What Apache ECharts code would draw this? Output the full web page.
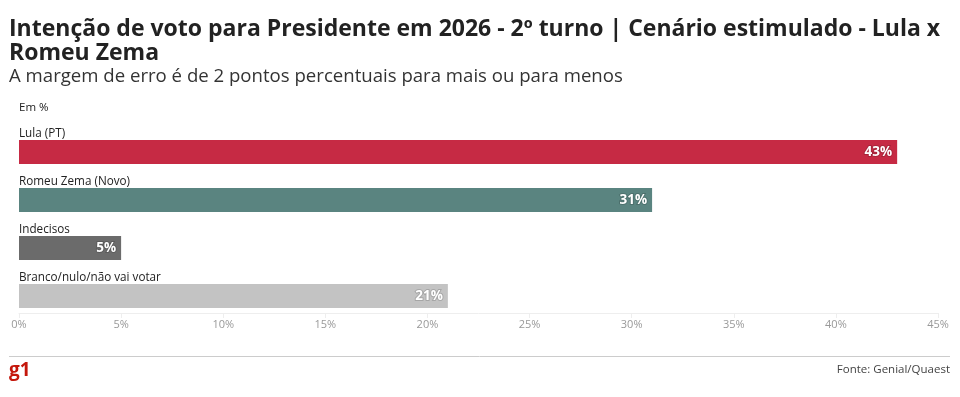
<!DOCTYPE html>
<html>
<head>
<meta charset="utf-8">
<script src="https://cdn.jsdelivr.net/npm/echarts@6/dist/echarts.min.js"></script>
<style>html,body{margin:0;padding:0;background:#fff}#c{width:960px;height:397px}</style>
</head>
<body>
<div id="c"></div>
<script>
const categories = ['Lula (PT)', 'Romeu Zema (Novo)', 'Indecisos', 'Branco/nulo/não vai votar'];
const values = [43, 31, 5, 21];
const barColors = ['#c62a44', '#5a8480', '#6b6b6b', '#c3c3c3'];
const xTicks = [0, 5, 10, 15, 20, 25, 30, 35, 40, 45];

const FONT = "'Open Sans', 'Noto Sans', sans-serif";
const chart = echarts.init(document.getElementById('c'), null, {renderer: 'canvas'});
chart.setOption({
  animation: false,
  textStyle: {fontFamily: FONT},
  title: {
    left: 9, top: 17, padding: 0,
    text: 'Intenção de voto para Presidente em 2026 - 2º turno | Cenário estimulado - Lula x\nRomeu Zema',
    subtext: 'A margem de erro é de 2 pontos percentuais para mais ou para menos',
    itemGap: 2,
    textStyle: {fontFamily: FONT, fontSize: 23, fontWeight: 'bold', lineHeight: 24, color: '#222'},
    subtextStyle: {fontFamily: FONT, fontSize: 18.6, color: '#333'}
  },
  grid: {left: 19, right: 22, top: 128, height: 192},
  xAxis: {
    type: 'value', min: 0, max: 45, interval: 5, offset: -7,
    axisLine: {show: true, lineStyle: {color: '#eeeeee'}},
    axisTick: {show: true, length: 5, lineStyle: {color: '#eeeeee'}},
    splitLine: {show: false},
    axisLabel: {color: '#999', fontSize: 11, margin: 6, fontFamily: FONT,
      formatter: v => xTicks.includes(v) ? v + '%' : ''}
  },
  yAxis: {
    type: 'category', data: categories, inverse: true,
    axisLine: {show: false}, axisTick: {show: false},
    axisLabel: {inside: true, margin: 0, align: 'left', verticalAlign: 'bottom',
      padding: [0, 0, 12, 0], color: '#222', fontSize: 11.7, fontFamily: FONT}
  },
  series: [{
    type: 'bar', barWidth: 24,
    data: values.map((v, i) => ({value: v, itemStyle: {color: barColors[i]}})),
    label: {show: true, position: 'insideRight', distance: 5,
      formatter: p => p.value + '%', color: '#fff', fontWeight: 'bold', fontSize: 13.5,
      fontFamily: FONT, textBorderColor: 'rgba(0,0,0,0.15)', textBorderWidth: 2}
  }],
  graphic: [
    {type: 'text', left: 19, top: 102, style: {text: 'Em %', fontSize: 11.5, fill: '#222', fontFamily: FONT}},
    {type: 'line', shape: {x1: 9, y1: 356.5, x2: 950, y2: 356.5}, style: {stroke: '#cccccc', lineWidth: 1}},
    {type: 'text', left: 9, top: 361, style: {text: 'g1', fontSize: 19, fontWeight: 'bold', fill: '#c4170c', fontFamily: FONT}},
    {type: 'text', right: 10, top: 364, style: {text: 'Fonte: Genial/Quaest', fontSize: 11.5, fill: '#444', fontFamily: FONT}}
  ]
});
</script>
</body>
</html>
